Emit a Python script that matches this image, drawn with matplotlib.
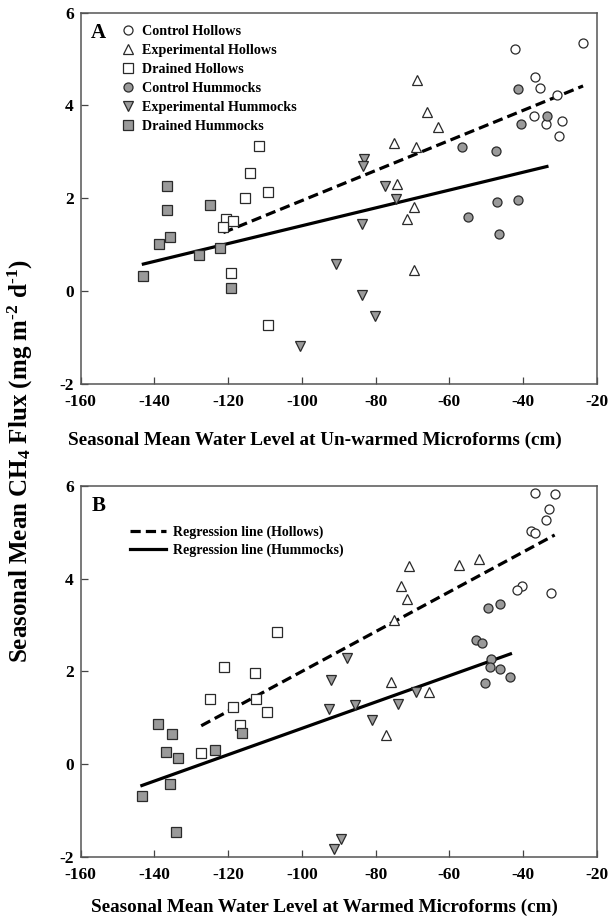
import numpy as np
import matplotlib
matplotlib.use("Agg")
import matplotlib.pyplot as plt
from matplotlib.lines import Line2D

plt.rcParams['font.family'] = 'Liberation Serif'
plt.rcParams['font.weight'] = 'bold'
plt.rcParams['axes.unicode_minus'] = False
plt.rcParams['mathtext.fontset'] = 'custom'
plt.rcParams['mathtext.rm'] = 'Liberation Serif:bold'
plt.rcParams['mathtext.it'] = 'Liberation Serif:bold'
plt.rcParams['mathtext.bf'] = 'Liberation Serif:bold'

# ---- Panel A: un-warmed microforms ----
a_ctrl_hollow_x = [-42.1, -23.7, -36.8, -35.5, -30.8, -37.0, -33.8, -29.4, -30.2]
a_ctrl_hollow_y = [5.21, 5.35, 4.62, 4.37, 4.23, 3.78, 3.59, 3.67, 3.35]
a_exp_hollow_x = [-68.8, -66.0, -63.0, -74.9, -69.1, -74.1, -69.7, -71.5, -69.7]
a_exp_hollow_y = [4.54, 3.85, 3.54, 3.20, 3.10, 2.30, 1.81, 1.55, 0.45]
a_dr_hollow_x = [-111.5, -114.0, -109.3, -115.3, -120.5, -118.7, -121.3, -119.3, -109.3]
a_dr_hollow_y = [3.13, 2.54, 2.14, 2.00, 1.55, 1.50, 1.39, 0.38, -0.72]
a_ctrl_hum_x = [-41.3, -33.5, -40.5, -56.6, -47.3, -47.0, -41.4, -55.0, -46.4]
a_ctrl_hum_y = [4.35, 3.78, 3.60, 3.10, 3.02, 1.93, 1.96, 1.60, 1.22]
a_exp_hum_x = [-83.1, -83.3, -77.4, -74.5, -83.6, -90.6, -83.8, -80.1, -100.5]
a_exp_hum_y = [2.85, 2.70, 2.26, 1.99, 1.44, 0.58, -0.08, -0.53, -1.19]
a_dr_hum_x = [-136.7, -136.7, -135.7, -138.8, -125.0, -127.9, -122.2, -143.0, -119.3]
a_dr_hum_y = [2.27, 1.74, 1.17, 1.02, 1.86, 0.77, 0.92, 0.32, 0.07]

# ---- Panel B: warmed microforms ----
b_ctrl_hollow_x = [-36.8, -31.4, -32.9, -33.8, -37.9, -36.8, -40.4, -41.7, -32.3]
b_ctrl_hollow_y = [5.85, 5.83, 5.49, 5.27, 5.03, 4.98, 3.83, 3.75, 3.68]
b_exp_hollow_x = [-52.0, -57.4, -70.8, -73.0, -71.4, -75.1, -75.9, -65.4, -77.1]
b_exp_hollow_y = [4.42, 4.29, 4.27, 3.83, 3.55, 3.10, 1.78, 1.55, 0.63]
b_dr_hollow_x = [-106.7, -121.2, -112.8, -124.9, -112.4, -118.6, -109.4, -116.8, -127.3]
b_dr_hollow_y = [2.85, 2.09, 1.96, 1.40, 1.40, 1.24, 1.12, 0.84, 0.25]
b_ctrl_hum_x = [-49.5, -46.3, -52.7, -51.0, -48.6, -48.9, -46.3, -43.4, -50.2]
b_ctrl_hum_y = [3.37, 3.46, 2.67, 2.62, 2.27, 2.09, 2.05, 1.88, 1.74]
b_exp_hum_x = [-87.7, -92.0, -92.6, -85.7, -81.0, -74.0, -69.0, -89.5, -91.4]
b_exp_hum_y = [2.29, 1.81, 1.19, 1.28, 0.96, 1.30, 1.55, -1.62, -1.82]
b_dr_hum_x = [-139.0, -135.1, -136.8, -133.7, -123.6, -116.2, -135.7, -143.4, -134.1]
b_dr_hum_y = [0.86, 0.64, 0.27, 0.13, 0.30, 0.68, -0.42, -0.68, -1.47]

labels = ["Control Hollows", "Experimental Hollows", "Drained Hollows",
          "Control Hummocks", "Experimental Hummocks", "Drained Hummocks"]
xticks = [-160, -140, -120, -100, -80, -60, -40, -20]
yticks = [-2, 0, 2, 4, 6]

gray = '#9a9a9a'
edge = '#2a2a2a'
styles = [('o', 'white'), ('^', 'white'), ('s', 'white'),
          ('o', gray), ('v', gray), ('s', gray)]


def fit_line(ax, xs, ys, ls):
    x = np.concatenate(xs)
    y = np.concatenate(ys)
    k, b = np.polyfit(x, y, 1)
    xx = np.array([x.min(), x.max()])
    line, = ax.plot(xx, k * xx + b, color='black', lw=2.3, ls=ls, zorder=2)
    if ls == '--':
        line.set_dashes((3.2, 1.6))
    return line


def panel(ax, data, letter, xlabel, lab_xy):
    for (mk, fc), (xs, ys), lab in zip(styles, data, labels):
        ax.plot(xs, ys, ls='none', marker=mk, ms=6.5, mfc=fc, mec=edge,
                mew=0.9, label=lab, zorder=3)
    hol = data[:3]
    hum = data[3:]
    fit_line(ax, [d[0] for d in hol], [d[1] for d in hol], '--')
    fit_line(ax, [d[0] for d in hum], [d[1] for d in hum], '-')
    ax.set_xlim(-160, -20)
    ax.set_ylim(-2, 6)
    ax.set_xticks(xticks)
    ax.set_yticks(yticks)
    ax.tick_params(direction='in', length=5, width=0.9, color='#444444',
                   labelsize=12.5)
    ax.tick_params(axis='x', pad=7)
    ax.tick_params(axis='y', pad=5)
    for s in ax.spines.values():
        s.set_color('#555555')
        s.set_linewidth(1.1)
    ax.text(0.034, 0.945, letter, transform=ax.transAxes, fontsize=15,
            fontweight='bold', ha='center', va='center')
    ax.set_xlabel(xlabel, fontsize=13.8, fontweight='bold')
    ax.xaxis.set_label_coords(*lab_xy)
    ax.xaxis.label.set_va('center')


fig = plt.figure(figsize=(6.09, 9.22), dpi=100)
ax1 = fig.add_axes([0.1325, 0.5835, 0.8473, 0.4029])
ax2 = fig.add_axes([0.1325, 0.0705, 0.8473, 0.4027])

data_a = [(a_ctrl_hollow_x, a_ctrl_hollow_y), (a_exp_hollow_x, a_exp_hollow_y),
          (a_dr_hollow_x, a_dr_hollow_y), (a_ctrl_hum_x, a_ctrl_hum_y),
          (a_exp_hum_x, a_exp_hum_y), (a_dr_hum_x, a_dr_hum_y)]
data_b = [(b_ctrl_hollow_x, b_ctrl_hollow_y), (b_exp_hollow_x, b_exp_hollow_y),
          (b_dr_hollow_x, b_dr_hollow_y), (b_ctrl_hum_x, b_ctrl_hum_y),
          (b_exp_hum_x, b_exp_hum_y), (b_dr_hum_x, b_dr_hum_y)]

panel(ax1, data_a, 'A', 'Seasonal Mean Water Level at Un-warmed Microforms (cm)',
      (0.454, -0.151))
panel(ax2, data_b, 'B', 'Seasonal Mean Water Level at Warmed Microforms (cm)',
      (0.4715, -0.1365))

# legend A: markers only
h, l = ax1.get_legend_handles_labels()
ax1.legend(h, l, loc='upper left', bbox_to_anchor=(0.075, 0.974), frameon=False,
           handlelength=0.8, handletextpad=0.6, labelspacing=0.42,
           borderaxespad=0, borderpad=0.2, prop={'weight': 'bold', 'size': 10.2})

# legend B: regression lines
hh = [Line2D([], [], color='black', lw=2.3, ls='--', dashes=(3.2, 1.6)),
      Line2D([], [], color='black', lw=2.3)]
ax2.legend(hh, ['Regression line (Hollows)', 'Regression line (Hummocks)'],
           loc='upper left', bbox_to_anchor=(0.09, 0.9), frameon=False,
           handlelength=2.6, handletextpad=0.5, labelspacing=0.3,
           borderaxespad=0, borderpad=0.2, prop={'weight': 'bold', 'size': 10})

fig.text(0.033, 0.5, 'Seasonal Mean CH$_4$ Flux (mg m$^{\u2010 2}$ d$^{\u2010 1}$)',
         rotation=90, ha='center', va='center', fontsize=18, fontweight='bold')

fig.savefig('out.png', dpi=100)
